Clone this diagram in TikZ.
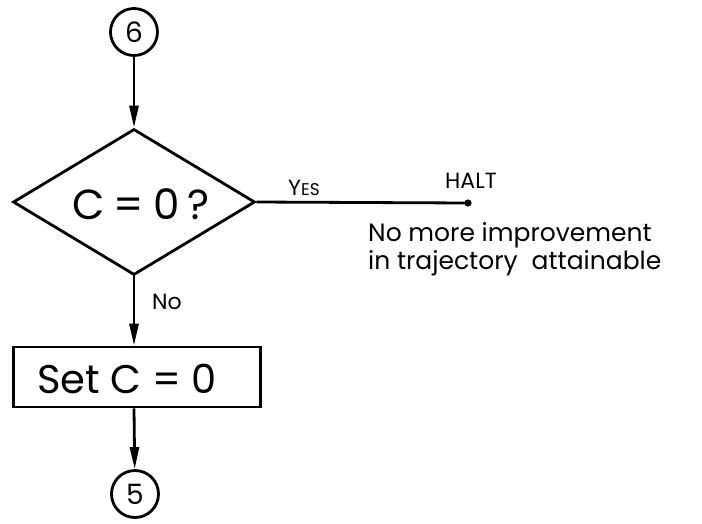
\documentclass[tikz,border=0pt]{standalone}
\usepackage{fontspec}
\setmainfont{Poppins}
\usetikzlibrary{shapes.geometric,arrows.meta}
\begin{document}
\begin{tikzpicture}[x=1pt,y=-1pt,
  conn/.style={draw=black,line width=2.8pt},
  arr/.style={conn,-{Triangle[length=22pt,width=9pt]}},
  conncirc/.style={circle,draw,line width=2.8pt,minimum size=47pt,inner sep=0pt,font=\fontsize{28}{32}\selectfont},
  decision/.style={diamond,draw,line width=2.8pt,minimum width=242pt,minimum height=146pt,inner sep=0pt,aspect=1.66},
  procbox/.style={rectangle,draw,line width=2.8pt,minimum width=247pt,minimum height=60pt,inner sep=0pt},
  bigtext/.style={inner sep=0pt,font=\fontsize{42}{48}\selectfont},
  lbl/.style={inner sep=0pt,font=\fontsize{22}{26}\selectfont},
  note/.style={inner sep=0pt,align=left,font=\fontsize{25}{28}\selectfont}
]
\useasboundingbox (0,0) rectangle (702,523);
\node[conncirc] (six) at (134,32) {6};
\node[decision] (dec) at (134,202) {};
\node[bigtext] (dectext) at (141,204) {C\hspace{9pt}=\hspace{9pt}0\hspace{8pt}?};
\node[procbox] (set) at (137,377) {};
\node[bigtext,font=\fontsize{40}{46}\selectfont] (settext) at (127,379) {Set C = 0};
\node[conncirc] (five) at (135,494) {5};
\coordinate (halt) at (468,203);
\fill (halt) circle (3.6pt);

\draw[arr] (six) -- (dec.north);
\draw[arr] (dec.south) -- (dec.south |- set.north);
\draw[arr] (dec.south |- set.south) -- (five);
\draw[conn] (dec.east) -- (halt);

\node[lbl,anchor=base west] (yes) at (288,195) {Y{\fontsize{17}{20}\selectfont ES}};
\node[lbl,anchor=base west] (haltlbl) at (445,188) {HALT};
\node[lbl,anchor=base west] (no) at (152,309) {No};
\node[note,anchor=north west] (msg) at (368,222) {No more improvement\\in trajectory\hspace{14pt}attainable};
\end{tikzpicture}
\end{document}
